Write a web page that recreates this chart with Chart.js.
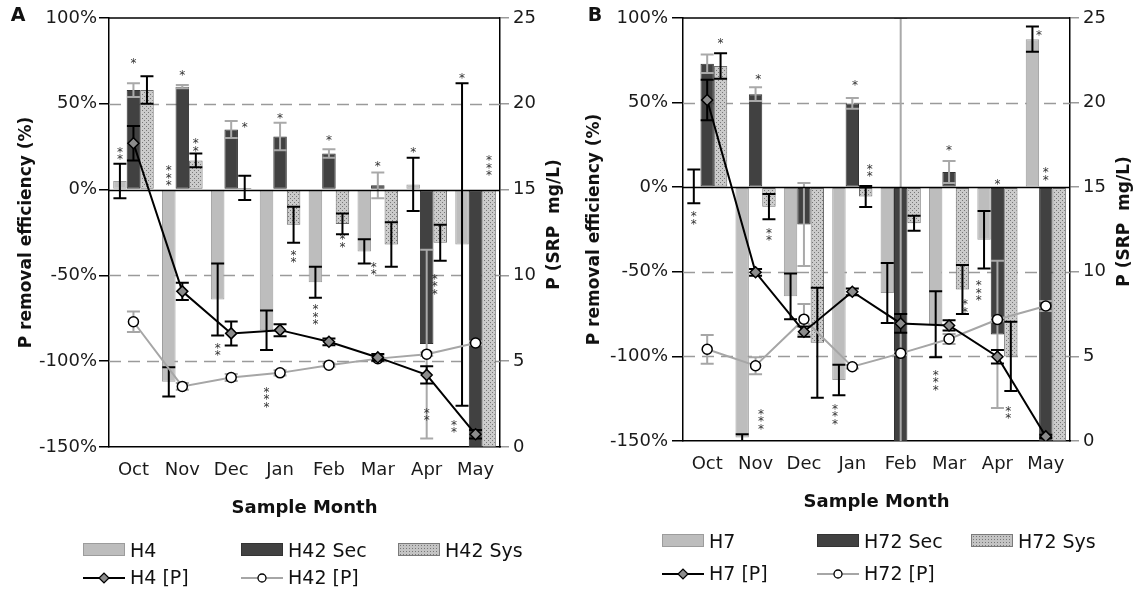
<!DOCTYPE html>
<html>
<head>
<meta charset="utf-8">
<script src="https://cdn.jsdelivr.net/npm/chart.js@4.4.1/dist/chart.umd.min.js"></script>
<style>
  html, body { margin: 0; padding: 0; background: #fff; }
  #wrap { position: relative; width: 1140px; height: 594px; overflow: hidden; font-family: "DejaVu Sans", sans-serif; }
  canvas { position: absolute; top: 0; }
  .lg { position: absolute; font-size: 19px; color: #111; line-height: 22px; white-space: nowrap; }
  .sw { position: absolute; width: 42px; height: 13px; box-sizing: border-box; }
</style>
</head>
<body>
<div id="wrap">
  <canvas id="panelA" width="570" height="594" style="left:0"></canvas>
  <canvas id="panelB" width="570" height="594" style="left:570px"></canvas>
</div>
<script>
const months = ["Oct", "Nov", "Dec", "Jan", "Feb", "Mar", "Apr", "May"];
const dashedAt = [50, -50, -100];

// panel A - removal efficiency (%), left axis
const h4 = [5, -112, -64, -82, -54, -36, 3, -32];
const h4Err = [10, 8.5, 21, 11.5, 9, 7, 15.5, 94];
const h42Sec = [58, 60, 35, 31, 21, 2.5, -90, -150];
const h42SecErr = [4, 1, 5, 8, 2.5, 7.5, 55, 0];
const h42Sys = [58, 17, 1, -20.5, -20, -32, -31, -150];
const h42SysErr = [8, 4, 7, 10.5, 6, 13, 10.5, 0];
// panel A - [P] in mg/L, right axis
const h4P = [17.7, 9.07, 6.62, 6.81, 6.13, 5.22, 4.2, 0.74];
const h4PErr = [1.0, 0.5, 0.7, 0.35, 0.2, 0.2, 0.5, 0.25];
const h42P = [7.3, 3.53, 4.05, 4.32, 4.77, 5.15, 5.41, 6.06];
const h42PErr = [0.6, 0.2, 0.2, 0.15, 0.1, 0.15, 0.1, 0.1];

// panel B
const h7 = [0.5, -148, -64.5, -114, -62.5, -81, -31, 87.5];
const h7Err = [10, 2, 13.5, 9, 17.7, 19.5, 17, 7.5];
const h72Sec = [73, 55, -22, 49.5, -150, 9, -87, -150];
const h72SecErr = [5.5, 4, 24.5, 3.2, 250, 6.5, 43.5, 0];
const h72Sys = [71.6, -11.5, -92, -5.5, -21.3, -60.5, -100, -150];
const h72SysErr = [7.5, 7.5, 32.5, 6.2, 4.5, 14.5, 20.5, 0];
const h7P = [20.15, 9.97, 6.46, 8.82, 6.95, 6.83, 4.98, 0.27];
const h7PErr = [1.2, 0.2, 0.3, 0.2, 0.55, 0.3, 0.4, 0.1];
const h72P = [5.42, 4.45, 7.2, 4.39, 5.18, 6.03, 7.18, 7.98];
const h72PErr = [0.85, 0.5, 0.9, 0.1, 0.1, 0.3, 0.1, 0.3];

// significance stars: text, month, bar slot, centre value (%)
const starsA = ["**", "*", "***", "*", "**", "**", "*", "***", "*", "**", "***", "*", "**", "**", "*", "*", "***", "**", "*", "***", "**"];
const starMonthA = [0, 0, 1, 1, 1, 2, 2, 3, 3, 3, 4, 4, 4, 5, 5, 6, 6, 6, 7, 7, 7];
const starSlotA = [0, 1, 0, 1, 2, 0, 2, 0, 1, 2, 0, 1, 2, 0.7, 1, 0, 1.6, 1, 0, 2, -0.6];
const starAtA = [21, 75, 8, 68, 26, -93, 38, -121, 43, -39, -73, 30, -30, -46, 15, 23, -55, -131, 66, 14, -138];

const starsB = ["**", "*", "***", "*", "**", "***", "*", "**", "***", "*", "**", "***", "*", "**", "*", "**"];
const starMonthB = [0, 0, 1, 1, 1, 3, 3, 3, 5, 5, 5, 6, 6, 6, 7, 7];
const starSlotB = [0, 2, 1.4, 1.2, 2, -0.3, 1.2, 2.3, 0, 1, 2.2, -0.4, 1, 1.8, 0.5, 1];
const starAtB = [-18, 86.5, -137, 65, -28, -134, 61.5, 10, -114, 23, -70, -61, 3, -133, 91, 8];

Chart.defaults.font.family = "'DejaVu Sans', sans-serif";
Chart.defaults.color = "#1a1a1a";

function dots(ctx) {
  const c = document.createElement("canvas");
  c.width = 4; c.height = 4;
  const g = c.getContext("2d");
  g.fillStyle = "#cbcbcb"; g.fillRect(0, 0, 4, 4);
  g.fillStyle = "#777";
  g.fillRect(0, 0, 1, 1); g.fillRect(2, 2, 1, 1);
  return ctx.createPattern(c, "repeat");
}

function drawErr(chart, meta, ds) {
  if (!ds.err) return;
  const ctx = chart.ctx, sc = chart.scales[meta.yAxisID], a = chart.chartArea;
  ctx.save();
  ctx.beginPath();
  ctx.rect(a.left, a.top, a.right - a.left, a.bottom - a.top);
  ctx.clip();
  ctx.strokeStyle = ds.errColor;
  ctx.lineWidth = 2;
  meta.data.forEach((el, i) => {
    const e = ds.err[i];
    if (!e) return;
    const v = ds.data[i];
    const hi = sc.getPixelForValue(v + e), lo = sc.getPixelForValue(v - e);
    const x = el.x, half = 6.5;
    ctx.beginPath();
    ctx.moveTo(x, hi); ctx.lineTo(x, lo);
    ctx.moveTo(x - half, hi); ctx.lineTo(x + half, hi);
    ctx.moveTo(x - half, lo); ctx.lineTo(x + half, lo);
    ctx.stroke();
  });
  ctx.restore();
}

const errorBars = {
  id: "errorBars",
  beforeDatasetDraw(chart, args) {
    const ds = chart.data.datasets[args.index];
    if (ds.type === "line") drawErr(chart, args.meta, ds);
  },
  afterDatasetDraw(chart, args) {
    const ds = chart.data.datasets[args.index];
    if (ds.type !== "line") drawErr(chart, args.meta, ds);
  }
};

const decor = {
  id: "decor",
  beforeDatasetsDraw(chart) {
    const { ctx, chartArea: a, scales: { y } } = chart;
    ctx.save();
    ctx.strokeStyle = "#9a9a9a";
    ctx.lineWidth = 1.5;
    ctx.setLineDash([12, 7]);
    dashedAt.forEach(v => {
      const py = Math.round(y.getPixelForValue(v)) + 0.5;
      ctx.beginPath(); ctx.moveTo(a.left, py); ctx.lineTo(a.right, py); ctx.stroke();
    });
    ctx.restore();
  },
  afterDatasetsDraw(chart, args, o) {
    const { ctx, chartArea: a, scales: { y } } = chart;
    ctx.save();
    ctx.strokeStyle = "#000";
    ctx.lineWidth = 1.5;
    const z = Math.round(y.getPixelForValue(0)) + 0.5;
    ctx.beginPath(); ctx.moveTo(a.left, z); ctx.lineTo(a.right, z); ctx.stroke();
    ctx.beginPath(); ctx.moveTo(a.left, a.top); ctx.lineTo(a.right, a.top); ctx.stroke();

    // stars
    const bars = chart.getDatasetMeta(2);
    ctx.fillStyle = "#333";
    ctx.font = "12px 'DejaVu Sans'";
    ctx.textAlign = "center";
    ctx.textBaseline = "middle";
    o.stars.forEach((s, k) => {
      const el = bars.data[o.starMonth[k]];
      const x = el.x + o.starSlot[k] * el.width;
      const yc = y.getPixelForValue(o.starAt[k]);
      for (let i = 0; i < s.length; i++) {
        ctx.fillText("*", x, yc + (i - (s.length - 1) / 2) * 7.5 + 3);
      }
    });
    ctx.restore();
  },
  afterDraw(chart, args, o) {
    const { ctx, chartArea: a } = chart;
    const midY = (a.top + a.bottom) / 2;
    ctx.save();
    ctx.fillStyle = "#111";
    ctx.textAlign = "center";
    ctx.textBaseline = "middle";
    ctx.font = "bold 17px 'DejaVu Sans'";
    ctx.save();
    ctx.translate(o.leftTitleX, midY);
    ctx.rotate(-Math.PI / 2);
    ctx.fillText("P removal efficiency (%)", 0, 0);
    ctx.restore();
    ctx.save();
    ctx.translate(o.rightTitleX, midY - 8);
    ctx.rotate(-Math.PI / 2);
    ctx.fillText("P (SRP  mg/L)", 0, 0);
    ctx.restore();
    ctx.font = "bold 18px 'DejaVu Sans'";
    ctx.fillText("Sample Month", (a.left + a.right) / 2, a.bottom + 61);
    ctx.font = "bold 19px 'DejaVu Sans'";
    ctx.fillText(o.letter, o.letterX, 16);
    ctx.restore();
  }
};

function panel(id, p) {
  const canvas = document.getElementById(id);
  const sysFill = dots(canvas.getContext("2d"));
  return new Chart(canvas, {
    type: "bar",
    data: {
      labels: months,
      datasets: [
        {
          type: "line", label: p.names[3], data: p.lineA, err: p.lineAErr, errColor: "#000",
          yAxisID: "y2", order: 0, borderColor: "#000", borderWidth: 2,
          pointStyle: "rectRot", pointRadius: 5.5, pointBackgroundColor: "#8c8c8c",
          pointBorderColor: "#000", pointBorderWidth: 1.5
        },
        {
          type: "line", label: p.names[4], data: p.lineB, err: p.lineBErr, errColor: "#a6a6a6",
          yAxisID: "y2", order: 1, borderColor: "#a6a6a6", borderWidth: 2,
          pointStyle: "circle", pointRadius: 5, pointBackgroundColor: "#fff",
          pointBorderColor: "#000", pointBorderWidth: 1.5
        },
        {
          label: p.names[0], data: p.barA, err: p.barAErr, errColor: "#000", yAxisID: "y", order: 2,
          backgroundColor: "#bdbdbd", borderColor: "#9c9c9c", borderWidth: 1
        },
        {
          label: p.names[1], data: p.barB, err: p.barBErr, errColor: "#a9a9a9", yAxisID: "y", order: 3,
          backgroundColor: "#414141", borderColor: "#333", borderWidth: 1
        },
        {
          label: p.names[2], data: p.barC, err: p.barCErr, errColor: "#000", yAxisID: "y", order: 4,
          backgroundColor: sysFill, borderColor: "#6e6e6e", borderWidth: 1
        }
      ]
    },
    options: {
      responsive: false,
      animation: false,
      devicePixelRatio: 1,
      layout: { padding: { top: 18, left: 0, right: 0, bottom: 0 } },
      datasets: { bar: { categoryPercentage: 0.83, barPercentage: 1, borderSkipped: false } },
      plugins: { legend: { display: false }, tooltip: { enabled: false }, decor: p.decor },
      scales: {
        x: {
          offset: true,
          grid: { display: false, drawTicks: false },
          border: { color: "#000", width: 1.5 },
          ticks: { font: { size: 18 }, padding: 13, maxRotation: 0, autoSkip: false },
          afterFit: s => { s.height = p.xHeight; }
        },
        y: {
          position: "left", min: -150, max: 100,
          grid: { drawOnChartArea: false, color: "#000", tickLength: p.tickLen, lineWidth: 1.5 },
          border: { color: "#000", width: 1.5 },
          ticks: { stepSize: 50, font: { size: 18 }, padding: p.tickPad, callback: v => v + "%" },
          afterFit: s => { s.width = p.leftW; }
        },
        y2: {
          position: "right", min: 0, max: 25,
          grid: { drawOnChartArea: false, color: "#9a9a9a", tickLength: 9, lineWidth: 1.5 },
          border: { color: "#000", width: 1.5 },
          ticks: { stepSize: 5, font: { size: 18 }, padding: 4 },
          afterFit: s => { s.width = 70; }
        }
      }
    },
    plugins: [errorBars, decor]
  });
}

panel("panelA", {
  names: ["H4", "H42 Sec", "H42 Sys", "H4 [P]", "H42 [P]"],
  barA: h4, barAErr: h4Err, barB: h42Sec, barBErr: h42SecErr, barC: h42Sys, barCErr: h42SysErr,
  lineA: h4P, lineAErr: h4PErr, lineB: h42P, lineBErr: h42PErr,
  xHeight: 147, leftW: 109, tickLen: 10, tickPad: 2,
  decor: { letter: "A", letterX: 18, leftTitleX: 27, rightTitleX: 555,
    stars: starsA, starMonth: starMonthA, starSlot: starSlotA, starAt: starAtA }
});

panel("panelB", {
  names: ["H7", "H72 Sec", "H72 Sys", "H7 [P]", "H72 [P]"],
  barA: h7, barAErr: h7Err, barB: h72Sec, barBErr: h72SecErr, barC: h72Sys, barCErr: h72SysErr,
  lineA: h7P, lineAErr: h7PErr, lineB: h72P, lineBErr: h72PErr,
  xHeight: 153, leftW: 113, tickLen: 11, tickPad: 4,
  decor: { letter: "B", letterX: 25, leftTitleX: 25, rightTitleX: 555,
    stars: starsB, starMonth: starMonthB, starSlot: starSlotB, starAt: starAtB }
});

// legends (HTML)
const wrap = document.getElementById("wrap");
function swatch(kind) {
  if (kind === "light") return "background:#bdbdbd;border:1px solid #9c9c9c;";
  if (kind === "dark") return "background:#414141;border:1px solid #333;";
  return "background-color:#c4c4c4;background-image:radial-gradient(#777 0.7px, transparent 0.9px);background-size:3px 3px;border:1px solid #7a7a7a;";
}
function lineIcon(kind) {
  if (kind === "diamond") {
    return '<svg width="42" height="14"><line x1="0" y1="7" x2="42" y2="7" stroke="#000" stroke-width="2"/>' +
      '<rect x="17.5" y="3.5" width="7" height="7" transform="rotate(45 21 7)" fill="#8c8c8c" stroke="#000" stroke-width="1.3"/></svg>';
  }
  return '<svg width="42" height="14"><line x1="0" y1="7" x2="42" y2="7" stroke="#a6a6a6" stroke-width="2"/>' +
    '<circle cx="21" cy="7" r="4" fill="#fff" stroke="#000" stroke-width="1.3"/></svg>';
}
function legend(names, cols, rows) {
  const kinds = ["light", "dark", "dots"];
  kinds.forEach((k, i) => {
    const s = document.createElement("div");
    s.className = "sw";
    s.style.cssText = "left:" + cols[i] + "px;top:" + (rows[0] - 7) + "px;" + swatch(k);
    wrap.appendChild(s);
    const t = document.createElement("div");
    t.className = "lg";
    t.style.left = (cols[i] + 47) + "px";
    t.style.top = (rows[0] - 11) + "px";
    t.textContent = names[i];
    wrap.appendChild(t);
  });
  ["diamond", "circle"].forEach((k, i) => {
    const s = document.createElement("div");
    s.style.cssText = "position:absolute;left:" + cols[i] + "px;top:" + (rows[1] - 7) + "px;width:42px;height:14px;";
    s.innerHTML = lineIcon(k);
    wrap.appendChild(s);
    const t = document.createElement("div");
    t.className = "lg";
    t.style.left = (cols[i] + 47) + "px";
    t.style.top = (rows[1] - 11) + "px";
    t.textContent = names[3 + i];
    wrap.appendChild(t);
  });
}
legend(["H4", "H42 Sec", "H42 Sys", "H4 [P]", "H42 [P]"], [83, 241, 398], [550, 577]);
legend(["H7", "H72 Sec", "H72 Sys", "H7 [P]", "H72 [P]"], [662, 817, 971], [541, 573]);
</script>
</body>
</html>
